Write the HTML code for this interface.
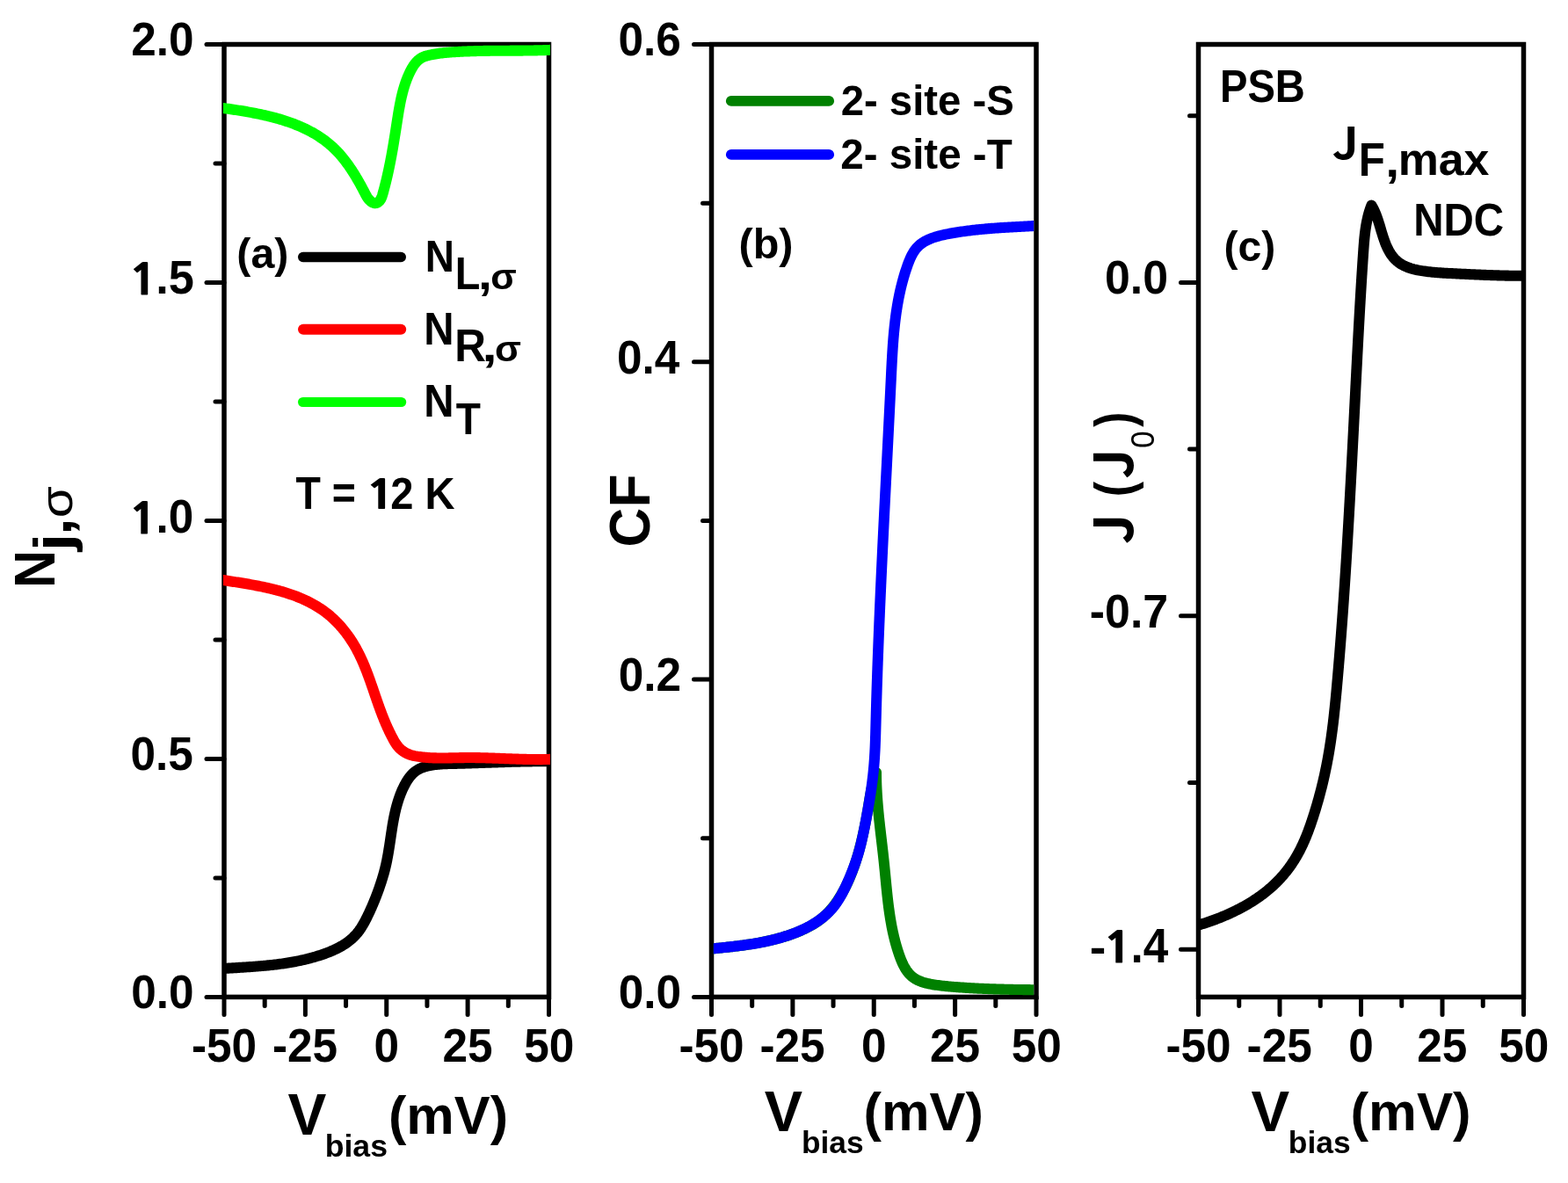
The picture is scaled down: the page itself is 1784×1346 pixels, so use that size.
<!DOCTYPE html>
<html><head><meta charset="utf-8"><title>Figure</title>
<style>html,body{margin:0;padding:0;background:#fff;}svg{display:block;}</style>
</head><body>
<svg width="1784" height="1346" viewBox="0 0 1784 1346">
<rect width="1784" height="1346" fill="#fff"/>
<defs><clipPath id="cpa"><rect x="253.9" y="0" width="372.1" height="1346"/></clipPath><clipPath id="cpb"><rect x="811.8" y="0" width="364.4" height="1346"/></clipPath><clipPath id="cpc"><rect x="1362" y="0" width="369.2" height="1346"/></clipPath></defs>
<g>
<rect x="255" y="50.5" width="369.5" height="1083.9" fill="none" stroke="#000" stroke-width="5.5" stroke-linejoin="miter"/>
<rect x="809.5" y="50.5" width="369.5" height="1083.9" fill="none" stroke="#000" stroke-width="5.5" stroke-linejoin="miter"/>
<rect x="1363.5" y="50.5" width="370" height="1083.9" fill="none" stroke="#000" stroke-width="5.5" stroke-linejoin="miter"/>
<line x1="255" y1="1134.4" x2="255" y2="1154.4" stroke="#000" stroke-width="5.0" stroke-linecap="round"/>
<line x1="347.38" y1="1134.4" x2="347.38" y2="1154.4" stroke="#000" stroke-width="5.0" stroke-linecap="round"/>
<line x1="439.75" y1="1134.4" x2="439.75" y2="1154.4" stroke="#000" stroke-width="5.0" stroke-linecap="round"/>
<line x1="532.12" y1="1134.4" x2="532.12" y2="1154.4" stroke="#000" stroke-width="5.0" stroke-linecap="round"/>
<line x1="624.5" y1="1134.4" x2="624.5" y2="1154.4" stroke="#000" stroke-width="5.0" stroke-linecap="round"/>
<line x1="301.19" y1="1134.4" x2="301.19" y2="1144.4" stroke="#000" stroke-width="5.0" stroke-linecap="round"/>
<line x1="393.56" y1="1134.4" x2="393.56" y2="1144.4" stroke="#000" stroke-width="5.0" stroke-linecap="round"/>
<line x1="485.94" y1="1134.4" x2="485.94" y2="1144.4" stroke="#000" stroke-width="5.0" stroke-linecap="round"/>
<line x1="578.31" y1="1134.4" x2="578.31" y2="1144.4" stroke="#000" stroke-width="5.0" stroke-linecap="round"/>
<line x1="809.5" y1="1134.4" x2="809.5" y2="1154.4" stroke="#000" stroke-width="5.0" stroke-linecap="round"/>
<line x1="901.88" y1="1134.4" x2="901.88" y2="1154.4" stroke="#000" stroke-width="5.0" stroke-linecap="round"/>
<line x1="994.25" y1="1134.4" x2="994.25" y2="1154.4" stroke="#000" stroke-width="5.0" stroke-linecap="round"/>
<line x1="1086.62" y1="1134.4" x2="1086.62" y2="1154.4" stroke="#000" stroke-width="5.0" stroke-linecap="round"/>
<line x1="1179" y1="1134.4" x2="1179" y2="1154.4" stroke="#000" stroke-width="5.0" stroke-linecap="round"/>
<line x1="855.69" y1="1134.4" x2="855.69" y2="1144.4" stroke="#000" stroke-width="5.0" stroke-linecap="round"/>
<line x1="948.06" y1="1134.4" x2="948.06" y2="1144.4" stroke="#000" stroke-width="5.0" stroke-linecap="round"/>
<line x1="1040.44" y1="1134.4" x2="1040.44" y2="1144.4" stroke="#000" stroke-width="5.0" stroke-linecap="round"/>
<line x1="1132.81" y1="1134.4" x2="1132.81" y2="1144.4" stroke="#000" stroke-width="5.0" stroke-linecap="round"/>
<line x1="1363.5" y1="1134.4" x2="1363.5" y2="1154.4" stroke="#000" stroke-width="5.0" stroke-linecap="round"/>
<line x1="1456" y1="1134.4" x2="1456" y2="1154.4" stroke="#000" stroke-width="5.0" stroke-linecap="round"/>
<line x1="1548.5" y1="1134.4" x2="1548.5" y2="1154.4" stroke="#000" stroke-width="5.0" stroke-linecap="round"/>
<line x1="1641" y1="1134.4" x2="1641" y2="1154.4" stroke="#000" stroke-width="5.0" stroke-linecap="round"/>
<line x1="1733.5" y1="1134.4" x2="1733.5" y2="1154.4" stroke="#000" stroke-width="5.0" stroke-linecap="round"/>
<line x1="1409.75" y1="1134.4" x2="1409.75" y2="1144.4" stroke="#000" stroke-width="5.0" stroke-linecap="round"/>
<line x1="1502.25" y1="1134.4" x2="1502.25" y2="1144.4" stroke="#000" stroke-width="5.0" stroke-linecap="round"/>
<line x1="1594.75" y1="1134.4" x2="1594.75" y2="1144.4" stroke="#000" stroke-width="5.0" stroke-linecap="round"/>
<line x1="1687.25" y1="1134.4" x2="1687.25" y2="1144.4" stroke="#000" stroke-width="5.0" stroke-linecap="round"/>
<line x1="235" y1="1134.4" x2="255" y2="1134.4" stroke="#000" stroke-width="5.0" stroke-linecap="round"/>
<line x1="235" y1="863.43" x2="255" y2="863.43" stroke="#000" stroke-width="5.0" stroke-linecap="round"/>
<line x1="235" y1="592.45" x2="255" y2="592.45" stroke="#000" stroke-width="5.0" stroke-linecap="round"/>
<line x1="235" y1="321.48" x2="255" y2="321.48" stroke="#000" stroke-width="5.0" stroke-linecap="round"/>
<line x1="235" y1="50.5" x2="255" y2="50.5" stroke="#000" stroke-width="5.0" stroke-linecap="round"/>
<line x1="245" y1="998.91" x2="255" y2="998.91" stroke="#000" stroke-width="5.0" stroke-linecap="round"/>
<line x1="245" y1="727.94" x2="255" y2="727.94" stroke="#000" stroke-width="5.0" stroke-linecap="round"/>
<line x1="245" y1="456.96" x2="255" y2="456.96" stroke="#000" stroke-width="5.0" stroke-linecap="round"/>
<line x1="245" y1="185.99" x2="255" y2="185.99" stroke="#000" stroke-width="5.0" stroke-linecap="round"/>
<line x1="789.5" y1="1134.4" x2="809.5" y2="1134.4" stroke="#000" stroke-width="5.0" stroke-linecap="round"/>
<line x1="789.5" y1="773.1" x2="809.5" y2="773.1" stroke="#000" stroke-width="5.0" stroke-linecap="round"/>
<line x1="789.5" y1="411.8" x2="809.5" y2="411.8" stroke="#000" stroke-width="5.0" stroke-linecap="round"/>
<line x1="789.5" y1="50.5" x2="809.5" y2="50.5" stroke="#000" stroke-width="5.0" stroke-linecap="round"/>
<line x1="799.5" y1="953.75" x2="809.5" y2="953.75" stroke="#000" stroke-width="5.0" stroke-linecap="round"/>
<line x1="799.5" y1="592.45" x2="809.5" y2="592.45" stroke="#000" stroke-width="5.0" stroke-linecap="round"/>
<line x1="799.5" y1="231.15" x2="809.5" y2="231.15" stroke="#000" stroke-width="5.0" stroke-linecap="round"/>
<line x1="1343.5" y1="321.4" x2="1363.5" y2="321.4" stroke="#000" stroke-width="5.0" stroke-linecap="round"/>
<line x1="1343.5" y1="700.8" x2="1363.5" y2="700.8" stroke="#000" stroke-width="5.0" stroke-linecap="round"/>
<line x1="1343.5" y1="1080.2" x2="1363.5" y2="1080.2" stroke="#000" stroke-width="5.0" stroke-linecap="round"/>
<line x1="1353.5" y1="131.7" x2="1363.5" y2="131.7" stroke="#000" stroke-width="5.0" stroke-linecap="round"/>
<line x1="1353.5" y1="511.1" x2="1363.5" y2="511.1" stroke="#000" stroke-width="5.0" stroke-linecap="round"/>
<line x1="1353.5" y1="890.5" x2="1363.5" y2="890.5" stroke="#000" stroke-width="5.0" stroke-linecap="round"/>
</g>
<g>
<path d="M250.01 1102.25 L254.00 1102.00 L255.50 1101.91 L256.99 1101.81 L258.49 1101.72 L259.99 1101.63 L261.49 1101.54 L262.99 1101.45 L264.49 1101.36 L265.99 1101.27 L267.49 1101.18 L269.00 1101.09 L270.50 1101.00 L272.00 1100.90 L273.50 1100.81 L275.01 1100.72 L276.51 1100.62 L278.01 1100.53 L279.52 1100.43 L281.02 1100.33 L282.52 1100.23 L284.03 1100.13 L285.53 1100.02 L287.03 1099.92 L288.54 1099.81 L290.04 1099.69 L291.54 1099.58 L293.04 1099.46 L294.55 1099.34 L296.05 1099.21 L297.55 1099.09 L299.05 1098.95 L300.55 1098.82 L302.05 1098.68 L303.55 1098.53 L305.05 1098.39 L306.55 1098.23 L308.04 1098.07 L309.54 1097.91 L311.04 1097.74 L312.53 1097.57 L314.03 1097.39 L315.52 1097.21 L317.01 1097.02 L318.51 1096.83 L320.00 1096.62 L321.49 1096.42 L322.97 1096.20 L324.46 1095.98 L325.95 1095.75 L327.43 1095.52 L328.92 1095.28 L330.40 1095.03 L331.88 1094.77 L333.36 1094.51 L334.84 1094.24 L336.32 1093.96 L337.79 1093.67 L339.27 1093.38 L340.74 1093.07 L342.21 1092.76 L343.68 1092.44 L345.15 1092.11 L346.61 1091.77 L348.08 1091.42 L349.54 1091.06 L351.00 1090.69 L352.46 1090.31 L353.91 1089.93 L355.37 1089.53 L356.82 1089.12 L358.27 1088.70 L359.72 1088.27 L361.17 1087.83 L362.61 1087.38 L364.05 1086.92 L365.49 1086.45 L366.93 1085.96 L368.37 1085.46 L369.80 1084.95 L371.22 1084.43 L372.64 1083.89 L374.06 1083.34 L375.47 1082.78 L376.87 1082.19 L378.26 1081.60 L379.64 1080.98 L381.01 1080.35 L382.37 1079.70 L383.72 1079.04 L385.06 1078.35 L386.38 1077.64 L387.69 1076.92 L388.99 1076.17 L390.27 1075.40 L391.53 1074.61 L392.78 1073.80 L394.01 1072.97 L395.22 1072.11 L396.40 1071.23 L397.57 1070.32 L398.72 1069.39 L399.85 1068.43 L400.95 1067.44 L402.03 1066.43 L403.09 1065.39 L404.12 1064.33 L405.12 1063.23 L406.10 1062.11 L407.05 1060.95 L407.97 1059.77 L408.87 1058.55 L409.74 1057.31 L410.59 1056.05 L411.41 1054.77 L412.21 1053.46 L412.99 1052.14 L413.75 1050.80 L414.50 1049.46 L415.23 1048.10 L415.94 1046.73 L416.65 1045.36 L417.34 1043.98 L418.02 1042.61 L418.69 1041.23 L419.35 1039.86 L420.00 1038.48 L420.64 1037.10 L421.27 1035.72 L421.90 1034.34 L422.51 1032.96 L423.12 1031.58 L423.72 1030.20 L424.31 1028.81 L424.90 1027.43 L425.47 1026.04 L426.04 1024.65 L426.60 1023.26 L427.15 1021.87 L427.70 1020.48 L428.23 1019.08 L428.77 1017.68 L429.29 1016.28 L429.81 1014.88 L430.32 1013.48 L430.83 1012.07 L431.33 1010.66 L431.82 1009.25 L432.31 1007.84 L432.79 1006.42 L433.26 1005.00 L433.72 1003.58 L434.18 1002.15 L434.63 1000.73 L435.07 999.29 L435.50 997.86 L435.92 996.42 L436.34 994.98 L436.74 993.54 L437.14 992.10 L437.52 990.65 L437.90 989.19 L438.26 987.74 L438.62 986.28 L438.96 984.82 L439.29 983.35 L439.61 981.88 L439.92 980.41 L440.23 978.93 L440.52 977.45 L440.80 975.97 L441.08 974.49 L441.35 973.00 L441.61 971.52 L441.86 970.03 L442.11 968.53 L442.35 967.04 L442.59 965.54 L442.83 964.05 L443.06 962.55 L443.29 961.05 L443.51 959.55 L443.74 958.05 L443.96 956.55 L444.18 955.05 L444.40 953.55 L444.62 952.05 L444.84 950.55 L445.07 949.05 L445.29 947.55 L445.52 946.05 L445.75 944.55 L445.99 943.05 L446.22 941.56 L446.47 940.06 L446.71 938.57 L446.97 937.08 L447.23 935.59 L447.49 934.10 L447.77 932.62 L448.05 931.13 L448.34 929.65 L448.64 928.18 L448.95 926.70 L449.27 925.23 L449.60 923.76 L449.94 922.30 L450.29 920.84 L450.66 919.38 L451.04 917.93 L451.43 916.48 L451.84 915.03 L452.26 913.59 L452.69 912.16 L453.14 910.72 L453.61 909.30 L454.10 907.88 L454.60 906.46 L455.12 905.05 L455.65 903.65 L456.21 902.25 L456.79 900.86 L457.38 899.47 L458.00 898.09 L458.64 896.72 L459.30 895.35 L459.98 893.99 L460.68 892.64 L461.42 891.30 L462.17 889.98 L462.96 888.68 L463.77 887.40 L464.61 886.15 L465.49 884.94 L466.40 883.75 L467.35 882.61 L468.33 881.51 L469.34 880.45 L470.40 879.44 L471.50 878.49 L472.64 877.59 L473.83 876.76 L475.05 875.98 L476.32 875.27 L477.63 874.61 L478.96 874.00 L480.33 873.45 L481.72 872.94 L483.14 872.48 L484.57 872.06 L486.02 871.68 L487.47 871.33 L488.94 871.02 L490.41 870.73 L491.90 870.48 L493.39 870.26 L494.88 870.06 L496.39 869.88 L497.90 869.73 L499.41 869.60 L500.93 869.48 L502.45 869.38 L503.98 869.30 L505.50 869.23 L507.03 869.17 L508.56 869.12 L510.10 869.07 L511.63 869.03 L513.16 868.99 L514.69 868.96 L516.22 868.92 L517.75 868.88 L519.27 868.84 L520.79 868.80 L522.32 868.76 L523.84 868.72 L525.36 868.67 L526.87 868.63 L528.39 868.59 L529.90 868.54 L531.42 868.49 L532.93 868.45 L534.44 868.40 L535.95 868.35 L537.46 868.30 L538.97 868.25 L540.47 868.20 L541.98 868.15 L543.48 868.10 L544.98 868.05 L546.49 868.00 L547.99 867.95 L549.49 867.90 L550.99 867.85 L552.49 867.79 L553.99 867.74 L555.48 867.69 L556.98 867.64 L558.48 867.59 L559.97 867.54 L561.47 867.49 L562.97 867.44 L564.46 867.38 L565.96 867.34 L567.45 867.29 L568.94 867.24 L570.44 867.19 L571.93 867.14 L573.43 867.09 L574.92 867.05 L576.41 867.00 L577.91 866.96 L579.40 866.91 L580.89 866.87 L582.39 866.82 L583.88 866.78 L585.38 866.74 L586.87 866.70 L588.37 866.66 L589.86 866.63 L591.36 866.59 L592.86 866.56 L594.35 866.52 L595.85 866.49 L597.35 866.46 L598.85 866.43 L600.35 866.40 L601.85 866.38 L603.35 866.35 L604.85 866.33 L606.36 866.31 L607.86 866.29 L609.37 866.27 L610.87 866.25 L612.38 866.24 L613.89 866.23 L615.40 866.21 L616.91 866.21 L618.42 866.20 L619.93 866.20 L621.45 866.19 L622.96 866.19 L624.48 866.20 L626.00 866.20 L630.00 866.21" fill="none" stroke="#000" stroke-width="12.1" stroke-linejoin="round" stroke-linecap="butt" clip-path="url(#cpa)"/>
<path d="M250.25 659.48 L254.20 660.10 L255.64 660.32 L257.08 660.55 L258.53 660.77 L259.98 661.00 L261.44 661.22 L262.90 661.45 L264.37 661.68 L265.84 661.91 L267.31 662.14 L268.78 662.37 L270.26 662.60 L271.74 662.84 L273.23 663.08 L274.72 663.32 L276.21 663.56 L277.70 663.81 L279.19 664.06 L280.69 664.31 L282.18 664.57 L283.68 664.83 L285.18 665.09 L286.68 665.36 L288.18 665.64 L289.69 665.91 L291.19 666.20 L292.69 666.48 L294.19 666.78 L295.69 667.08 L297.20 667.38 L298.70 667.69 L300.20 668.00 L301.70 668.33 L303.19 668.66 L304.69 668.99 L306.18 669.33 L307.68 669.68 L309.17 670.04 L310.66 670.40 L312.14 670.77 L313.63 671.15 L315.11 671.54 L316.58 671.94 L318.06 672.34 L319.53 672.75 L321.00 673.18 L322.46 673.61 L323.92 674.05 L325.37 674.50 L326.82 674.96 L328.27 675.43 L329.71 675.91 L331.15 676.40 L332.58 676.90 L334.00 677.41 L335.42 677.93 L336.83 678.47 L338.24 679.01 L339.64 679.57 L341.04 680.14 L342.43 680.72 L343.81 681.31 L345.18 681.92 L346.55 682.54 L347.91 683.17 L349.26 683.81 L350.61 684.47 L351.94 685.14 L353.27 685.83 L354.59 686.52 L355.90 687.24 L357.20 687.96 L358.49 688.71 L359.78 689.46 L361.05 690.23 L362.31 691.02 L363.57 691.82 L364.81 692.64 L366.05 693.47 L367.27 694.32 L368.48 695.19 L369.69 696.07 L370.88 696.97 L372.06 697.88 L373.23 698.81 L374.38 699.76 L375.53 700.73 L376.66 701.71 L377.78 702.71 L378.89 703.72 L379.99 704.75 L381.07 705.80 L382.15 706.86 L383.21 707.93 L384.26 709.02 L385.29 710.12 L386.32 711.23 L387.33 712.36 L388.32 713.50 L389.31 714.66 L390.28 715.82 L391.24 717.00 L392.19 718.18 L393.13 719.38 L394.05 720.59 L394.96 721.81 L395.85 723.04 L396.73 724.28 L397.60 725.53 L398.46 726.78 L399.30 728.05 L400.13 729.32 L400.94 730.60 L401.74 731.89 L402.53 733.19 L403.30 734.49 L404.06 735.80 L404.81 737.11 L405.54 738.43 L406.26 739.76 L406.96 741.09 L407.66 742.43 L408.34 743.77 L409.00 745.12 L409.66 746.47 L410.31 747.83 L410.94 749.19 L411.57 750.56 L412.19 751.93 L412.79 753.30 L413.39 754.68 L413.98 756.06 L414.56 757.45 L415.13 758.84 L415.69 760.23 L416.25 761.63 L416.80 763.03 L417.34 764.43 L417.88 765.84 L418.41 767.24 L418.94 768.65 L419.46 770.07 L419.97 771.48 L420.48 772.90 L420.99 774.32 L421.50 775.74 L422.00 777.16 L422.49 778.59 L422.99 780.01 L423.48 781.44 L423.98 782.87 L424.47 784.30 L424.96 785.72 L425.44 787.15 L425.93 788.58 L426.42 790.01 L426.91 791.45 L427.40 792.88 L427.89 794.31 L428.39 795.74 L428.88 797.17 L429.38 798.59 L429.88 800.02 L430.38 801.45 L430.89 802.87 L431.40 804.30 L431.92 805.72 L432.44 807.14 L432.96 808.56 L433.49 809.98 L434.03 811.40 L434.57 812.81 L435.12 814.22 L435.67 815.63 L436.24 817.04 L436.80 818.44 L437.38 819.85 L437.96 821.24 L438.55 822.64 L439.15 824.03 L439.75 825.42 L440.37 826.80 L440.99 828.18 L441.62 829.56 L442.27 830.93 L442.92 832.30 L443.58 833.67 L444.25 835.03 L444.93 836.38 L445.62 837.73 L446.32 839.08 L447.03 840.42 L447.76 841.75 L448.50 843.08 L449.26 844.38 L450.05 845.67 L450.88 846.92 L451.76 848.13 L452.68 849.29 L453.65 850.41 L454.68 851.47 L455.75 852.48 L456.87 853.44 L458.03 854.34 L459.24 855.18 L460.48 855.97 L461.77 856.69 L463.09 857.36 L464.44 857.96 L465.83 858.50 L467.26 858.98 L468.71 859.40 L470.18 859.76 L471.67 860.09 L473.17 860.37 L474.68 860.63 L476.19 860.86 L477.70 861.07 L479.21 861.27 L480.72 861.45 L482.23 861.61 L483.74 861.75 L485.25 861.88 L486.76 862.00 L488.28 862.10 L489.79 862.19 L491.30 862.27 L492.81 862.33 L494.32 862.38 L495.83 862.42 L497.35 862.46 L498.86 862.48 L500.37 862.49 L501.88 862.50 L503.39 862.50 L504.90 862.49 L506.41 862.48 L507.93 862.46 L509.44 862.44 L510.95 862.42 L512.46 862.39 L513.97 862.36 L515.48 862.32 L516.99 862.29 L518.50 862.26 L520.01 862.22 L521.52 862.19 L523.03 862.16 L524.54 862.13 L526.05 862.10 L527.56 862.08 L529.07 862.06 L530.58 862.05 L532.09 862.04 L533.60 862.04 L535.11 862.04 L536.62 862.05 L538.13 862.06 L539.63 862.07 L541.14 862.09 L542.65 862.12 L544.16 862.14 L545.67 862.17 L547.17 862.20 L548.68 862.24 L550.19 862.27 L551.70 862.31 L553.20 862.36 L554.71 862.40 L556.22 862.45 L557.73 862.50 L559.23 862.55 L560.74 862.60 L562.25 862.66 L563.75 862.71 L565.26 862.77 L566.77 862.82 L568.27 862.88 L569.78 862.94 L571.29 863.00 L572.79 863.06 L574.30 863.12 L575.81 863.18 L577.32 863.23 L578.82 863.29 L580.33 863.35 L581.84 863.41 L583.34 863.46 L584.85 863.52 L586.36 863.57 L587.87 863.62 L589.37 863.67 L590.88 863.72 L592.39 863.76 L593.90 863.81 L595.41 863.85 L596.91 863.89 L598.42 863.92 L599.93 863.96 L601.44 863.99 L602.95 864.01 L604.46 864.03 L605.96 864.05 L607.47 864.07 L608.98 864.08 L610.49 864.09 L612.00 864.09 L613.51 864.09 L615.02 864.09 L616.53 864.08 L618.04 864.06 L619.55 864.04 L621.07 864.01 L622.58 863.98 L624.09 863.94 L625.60 863.90 L629.60 863.79" fill="none" stroke="#ff0000" stroke-width="12.1" stroke-linejoin="round" stroke-linecap="butt" clip-path="url(#cpa)"/>
<path d="M250.04 122.44 L254.00 123.00 L255.45 123.21 L256.90 123.41 L258.35 123.62 L259.81 123.83 L261.27 124.04 L262.74 124.26 L264.21 124.47 L265.68 124.69 L267.16 124.92 L268.63 125.14 L270.12 125.37 L271.60 125.61 L273.08 125.84 L274.57 126.08 L276.06 126.33 L277.55 126.57 L279.04 126.83 L280.53 127.08 L282.03 127.35 L283.52 127.61 L285.02 127.88 L286.51 128.16 L288.01 128.44 L289.50 128.73 L291.00 129.02 L292.50 129.32 L293.99 129.62 L295.49 129.93 L296.98 130.25 L298.47 130.57 L299.97 130.90 L301.46 131.24 L302.95 131.58 L304.43 131.93 L305.92 132.29 L307.40 132.65 L308.88 133.03 L310.36 133.41 L311.84 133.79 L313.31 134.19 L314.78 134.60 L316.25 135.01 L317.71 135.43 L319.17 135.86 L320.63 136.30 L322.08 136.75 L323.53 137.21 L324.97 137.67 L326.41 138.15 L327.85 138.64 L329.28 139.13 L330.70 139.64 L332.12 140.16 L333.53 140.68 L334.94 141.22 L336.34 141.77 L337.74 142.33 L339.13 142.90 L340.52 143.48 L341.89 144.08 L343.27 144.68 L344.63 145.30 L345.99 145.93 L347.34 146.57 L348.68 147.22 L350.01 147.88 L351.34 148.56 L352.66 149.25 L353.97 149.96 L355.27 150.67 L356.57 151.40 L357.85 152.15 L359.13 152.90 L360.40 153.68 L361.65 154.46 L362.90 155.26 L364.14 156.07 L365.37 156.90 L366.59 157.74 L367.80 158.60 L369.00 159.47 L370.18 160.36 L371.36 161.26 L372.53 162.18 L373.68 163.11 L374.82 164.06 L375.96 165.03 L377.08 166.01 L378.19 167.01 L379.28 168.02 L380.37 169.05 L381.44 170.10 L382.50 171.16 L383.54 172.24 L384.58 173.34 L385.60 174.45 L386.61 175.58 L387.61 176.72 L388.60 177.87 L389.57 179.04 L390.53 180.22 L391.49 181.42 L392.43 182.62 L393.36 183.84 L394.27 185.06 L395.18 186.30 L396.08 187.55 L396.97 188.80 L397.84 190.07 L398.71 191.34 L399.57 192.62 L400.41 193.90 L401.25 195.20 L402.07 196.49 L402.89 197.80 L403.70 199.11 L404.50 200.42 L405.29 201.74 L406.07 203.06 L406.84 204.38 L407.60 205.70 L408.36 207.03 L409.10 208.35 L409.84 209.68 L410.57 211.01 L411.29 212.34 L412.00 213.66 L412.71 214.99 L413.41 216.31 L414.10 217.63 L414.78 218.94 L415.46 220.26 L416.15 221.56 L416.86 222.84 L417.61 224.10 L418.43 225.32 L419.32 226.50 L420.32 227.63 L421.43 228.70 L422.65 229.66 L423.96 230.45 L425.31 230.99 L426.68 231.20 L428.04 231.04 L429.35 230.55 L430.57 229.80 L431.65 228.83 L432.57 227.71 L433.33 226.47 L433.97 225.13 L434.52 223.71 L434.99 222.24 L435.43 220.75 L435.85 219.25 L436.27 217.75 L436.67 216.25 L437.07 214.76 L437.47 213.27 L437.85 211.77 L438.24 210.28 L438.61 208.80 L438.98 207.31 L439.34 205.82 L439.70 204.34 L440.05 202.86 L440.40 201.37 L440.74 199.89 L441.07 198.41 L441.40 196.93 L441.72 195.45 L442.04 193.98 L442.36 192.50 L442.67 191.02 L442.98 189.55 L443.28 188.07 L443.57 186.60 L443.87 185.12 L444.16 183.65 L444.44 182.18 L444.72 180.70 L445.00 179.23 L445.28 177.76 L445.55 176.28 L445.81 174.81 L446.08 173.34 L446.34 171.86 L446.60 170.39 L446.86 168.92 L447.11 167.44 L447.36 165.97 L447.61 164.49 L447.86 163.02 L448.10 161.54 L448.35 160.06 L448.59 158.59 L448.83 157.11 L449.06 155.63 L449.30 154.15 L449.54 152.67 L449.77 151.18 L450.00 149.70 L450.24 148.22 L450.47 146.73 L450.70 145.24 L450.93 143.75 L451.16 142.26 L451.39 140.77 L451.62 139.28 L451.85 137.79 L452.08 136.29 L452.32 134.79 L452.55 133.30 L452.79 131.80 L453.03 130.30 L453.27 128.80 L453.52 127.30 L453.77 125.81 L454.03 124.31 L454.30 122.81 L454.57 121.32 L454.84 119.83 L455.13 118.34 L455.42 116.85 L455.72 115.36 L456.03 113.88 L456.35 112.40 L456.68 110.92 L457.02 109.45 L457.37 107.98 L457.73 106.51 L458.10 105.05 L458.49 103.59 L458.89 102.13 L459.31 100.68 L459.74 99.24 L460.18 97.80 L460.64 96.37 L461.12 94.94 L461.61 93.52 L462.12 92.10 L462.65 90.70 L463.19 89.29 L463.76 87.90 L464.34 86.51 L464.94 85.13 L465.57 83.76 L466.21 82.40 L466.88 81.05 L467.57 79.70 L468.28 78.37 L469.03 77.07 L469.81 75.79 L470.62 74.54 L471.48 73.33 L472.38 72.16 L473.32 71.03 L474.31 69.96 L475.35 68.94 L476.45 67.99 L477.61 67.11 L478.83 66.29 L480.11 65.56 L481.46 64.90 L482.87 64.33 L484.33 63.82 L485.84 63.38 L487.37 62.98 L488.92 62.63 L490.48 62.31 L492.03 62.01 L493.58 61.73 L495.12 61.48 L496.65 61.23 L498.17 61.01 L499.68 60.79 L501.19 60.60 L502.70 60.41 L504.19 60.24 L505.69 60.08 L507.18 59.93 L508.66 59.79 L510.15 59.66 L511.63 59.54 L513.11 59.42 L514.59 59.32 L516.08 59.22 L517.56 59.12 L519.04 59.03 L520.53 58.94 L522.02 58.86 L523.50 58.78 L525.00 58.70 L526.49 58.63 L527.98 58.56 L529.47 58.50 L530.97 58.44 L532.47 58.38 L533.97 58.33 L535.47 58.28 L536.97 58.23 L538.47 58.18 L539.97 58.14 L541.48 58.10 L542.98 58.06 L544.49 58.03 L545.99 58.00 L547.50 57.97 L549.01 57.94 L550.52 57.91 L552.03 57.89 L553.54 57.87 L555.05 57.85 L556.56 57.83 L558.08 57.81 L559.59 57.80 L561.10 57.78 L562.62 57.77 L564.13 57.76 L565.65 57.75 L567.16 57.74 L568.68 57.73 L570.19 57.72 L571.71 57.71 L573.22 57.70 L574.74 57.70 L576.25 57.69 L577.77 57.68 L579.29 57.68 L580.80 57.67 L582.32 57.66 L583.83 57.66 L585.35 57.65 L586.86 57.64 L588.38 57.63 L589.89 57.62 L591.40 57.61 L592.92 57.60 L594.43 57.59 L595.94 57.57 L597.45 57.56 L598.96 57.54 L600.47 57.53 L601.98 57.51 L603.49 57.49 L605.00 57.46 L606.51 57.44 L608.01 57.41 L609.52 57.38 L611.02 57.35 L612.52 57.32 L614.03 57.28 L615.53 57.25 L617.03 57.21 L618.53 57.16 L620.02 57.12 L621.52 57.07 L623.01 57.01 L624.51 56.96 L626.00 56.90 L630.00 56.74" fill="none" stroke="#00ff00" stroke-width="12.1" stroke-linejoin="round" stroke-linecap="butt" clip-path="url(#cpa)"/>
<path d="M807.52 1079.69 L811.50 1079.30 L813.01 1079.15 L814.52 1079.01 L816.04 1078.86 L817.55 1078.71 L819.06 1078.56 L820.57 1078.41 L822.07 1078.26 L823.58 1078.10 L825.09 1077.94 L826.60 1077.79 L828.10 1077.63 L829.61 1077.46 L831.12 1077.30 L832.62 1077.13 L834.12 1076.95 L835.63 1076.78 L837.13 1076.60 L838.63 1076.42 L840.13 1076.23 L841.63 1076.04 L843.13 1075.85 L844.62 1075.65 L846.12 1075.44 L847.62 1075.24 L849.11 1075.02 L850.60 1074.80 L852.10 1074.58 L853.59 1074.35 L855.08 1074.12 L856.57 1073.88 L858.05 1073.63 L859.54 1073.38 L861.03 1073.12 L862.51 1072.85 L863.99 1072.58 L865.48 1072.30 L866.96 1072.01 L868.43 1071.72 L869.91 1071.41 L871.39 1071.10 L872.86 1070.78 L874.34 1070.46 L875.81 1070.12 L877.28 1069.78 L878.75 1069.43 L880.21 1069.07 L881.68 1068.70 L883.14 1068.32 L884.61 1067.93 L886.07 1067.53 L887.53 1067.12 L888.98 1066.71 L890.44 1066.28 L891.89 1065.84 L893.35 1065.39 L894.80 1064.93 L896.25 1064.46 L897.69 1063.98 L899.14 1063.48 L900.58 1062.98 L902.02 1062.46 L903.46 1061.93 L904.89 1061.39 L906.33 1060.83 L907.75 1060.27 L909.17 1059.68 L910.58 1059.09 L911.99 1058.48 L913.39 1057.85 L914.78 1057.21 L916.16 1056.55 L917.54 1055.88 L918.90 1055.19 L920.25 1054.48 L921.59 1053.76 L922.91 1053.02 L924.23 1052.26 L925.53 1051.48 L926.81 1050.68 L928.09 1049.87 L929.34 1049.03 L930.58 1048.17 L931.80 1047.30 L933.01 1046.40 L934.19 1045.48 L935.36 1044.54 L936.50 1043.58 L937.63 1042.59 L938.74 1041.59 L939.83 1040.56 L940.89 1039.52 L941.94 1038.45 L942.98 1037.37 L943.99 1036.26 L944.98 1035.15 L945.96 1034.01 L946.92 1032.86 L947.86 1031.69 L948.79 1030.50 L949.70 1029.30 L950.59 1028.09 L951.47 1026.87 L952.33 1025.63 L953.18 1024.38 L954.01 1023.12 L954.83 1021.84 L955.63 1020.56 L956.42 1019.27 L957.19 1017.97 L957.95 1016.66 L958.70 1015.34 L959.43 1014.02 L960.15 1012.69 L960.86 1011.35 L961.55 1010.00 L962.24 1008.65 L962.91 1007.30 L963.56 1005.94 L964.21 1004.57 L964.85 1003.20 L965.47 1001.82 L966.08 1000.44 L966.68 999.05 L967.27 997.65 L967.85 996.26 L968.42 994.85 L968.98 993.45 L969.53 992.03 L970.07 990.62 L970.60 989.20 L971.12 987.77 L971.63 986.35 L972.13 984.91 L972.62 983.48 L973.10 982.04 L973.57 980.60 L974.04 979.15 L974.49 977.71 L974.94 976.26 L975.38 974.80 L975.82 973.35 L976.24 971.89 L976.66 970.43 L977.07 968.97 L977.47 967.50 L977.87 966.04 L978.26 964.57 L978.64 963.10 L979.02 961.63 L979.39 960.16 L979.75 958.68 L980.11 957.21 L980.46 955.74 L980.81 954.26 L981.15 952.78 L981.49 951.31 L981.82 949.83 L982.15 948.35 L982.47 946.88 L982.79 945.40 L983.10 943.92 L983.41 942.44 L983.72 940.97 L984.02 939.49 L984.31 938.01 L984.60 936.53 L984.89 935.05 L985.17 933.56 L985.45 932.08 L985.73 930.60 L986.00 929.12 L986.27 927.63 L986.53 926.15 L986.79 924.66 L987.05 923.17 L987.30 921.69 L987.55 920.20 L987.80 918.71 L988.04 917.22 L988.29 915.73 L988.53 914.24 L988.77 912.74 L989.02 911.25 L989.27 909.76 L989.52 908.27 L989.77 906.78 L990.04 905.29 L990.31 903.81 L990.59 902.32 L990.87 900.84 L991.17 899.36 L991.48 897.88 L991.80 896.41 L992.14 894.93 L992.48 893.46 L992.85 892.00 L993.23 890.54 L993.63 889.08 L994.05 887.62 L994.48 886.17 L994.94 884.73 L995.42 883.29 L995.92 881.85 L996.45 880.42 L997.00 879.00 L997.00 880.52 L997.01 882.04 L997.03 883.55 L997.05 885.07 L997.08 886.59 L997.11 888.10 L997.15 889.61 L997.20 891.13 L997.25 892.64 L997.31 894.15 L997.37 895.66 L997.44 897.17 L997.52 898.68 L997.60 900.19 L997.68 901.70 L997.77 903.21 L997.86 904.72 L997.96 906.22 L998.06 907.73 L998.17 909.24 L998.28 910.74 L998.40 912.25 L998.52 913.75 L998.64 915.26 L998.77 916.76 L998.90 918.26 L999.03 919.77 L999.17 921.27 L999.31 922.77 L999.45 924.27 L999.60 925.77 L999.74 927.28 L999.90 928.78 L1000.05 930.28 L1000.21 931.78 L1000.36 933.28 L1000.52 934.78 L1000.69 936.28 L1000.85 937.78 L1001.02 939.28 L1001.18 940.78 L1001.35 942.28 L1001.52 943.78 L1001.69 945.28 L1001.86 946.78 L1002.04 948.27 L1002.21 949.77 L1002.39 951.27 L1002.56 952.77 L1002.74 954.27 L1002.91 955.77 L1003.09 957.27 L1003.26 958.77 L1003.44 960.27 L1003.61 961.77 L1003.79 963.27 L1003.96 964.77 L1004.13 966.27 L1004.31 967.77 L1004.48 969.27 L1004.65 970.77 L1004.82 972.27 L1004.98 973.77 L1005.15 975.27 L1005.31 976.77 L1005.48 978.28 L1005.64 979.78 L1005.80 981.28 L1005.95 982.79 L1006.11 984.29 L1006.26 985.79 L1006.41 987.30 L1006.56 988.80 L1006.71 990.31 L1006.85 991.81 L1007.00 993.32 L1007.14 994.82 L1007.29 996.33 L1007.43 997.83 L1007.57 999.34 L1007.72 1000.84 L1007.86 1002.35 L1008.01 1003.85 L1008.15 1005.36 L1008.30 1006.86 L1008.45 1008.37 L1008.59 1009.87 L1008.74 1011.38 L1008.90 1012.88 L1009.05 1014.39 L1009.21 1015.89 L1009.36 1017.39 L1009.52 1018.90 L1009.69 1020.40 L1009.85 1021.90 L1010.02 1023.40 L1010.20 1024.90 L1010.37 1026.40 L1010.56 1027.90 L1010.74 1029.40 L1010.93 1030.90 L1011.12 1032.40 L1011.32 1033.90 L1011.52 1035.39 L1011.73 1036.89 L1011.94 1038.38 L1012.16 1039.88 L1012.39 1041.37 L1012.62 1042.86 L1012.85 1044.35 L1013.09 1045.84 L1013.34 1047.33 L1013.60 1048.82 L1013.86 1050.30 L1014.13 1051.79 L1014.41 1053.27 L1014.69 1054.76 L1014.99 1056.24 L1015.29 1057.72 L1015.59 1059.20 L1015.91 1060.68 L1016.24 1062.15 L1016.57 1063.63 L1016.91 1065.10 L1017.27 1066.58 L1017.63 1068.05 L1018.00 1069.52 L1018.38 1070.98 L1018.77 1072.45 L1019.17 1073.92 L1019.59 1075.38 L1020.01 1076.84 L1020.44 1078.30 L1020.89 1079.76 L1021.34 1081.21 L1021.81 1082.67 L1022.29 1084.12 L1022.78 1085.57 L1023.28 1087.02 L1023.80 1088.46 L1024.33 1089.90 L1024.88 1091.33 L1025.45 1092.74 L1026.04 1094.15 L1026.65 1095.53 L1027.29 1096.90 L1027.95 1098.25 L1028.64 1099.57 L1029.36 1100.87 L1030.11 1102.14 L1030.90 1103.37 L1031.72 1104.58 L1032.58 1105.75 L1033.47 1106.87 L1034.41 1107.96 L1035.39 1109.01 L1036.41 1110.01 L1037.48 1110.96 L1038.60 1111.86 L1039.76 1112.71 L1040.98 1113.50 L1042.24 1114.24 L1043.55 1114.93 L1044.90 1115.57 L1046.28 1116.17 L1047.70 1116.73 L1049.14 1117.24 L1050.62 1117.72 L1052.12 1118.16 L1053.64 1118.56 L1055.17 1118.94 L1056.72 1119.28 L1058.28 1119.60 L1059.85 1119.90 L1061.42 1120.17 L1062.99 1120.42 L1064.56 1120.66 L1066.13 1120.88 L1067.68 1121.09 L1069.22 1121.29 L1070.75 1121.47 L1072.27 1121.65 L1073.78 1121.82 L1075.28 1121.98 L1076.78 1122.14 L1078.27 1122.28 L1079.75 1122.42 L1081.23 1122.56 L1082.70 1122.68 L1084.18 1122.81 L1085.65 1122.92 L1087.12 1123.04 L1088.59 1123.15 L1090.07 1123.26 L1091.55 1123.36 L1093.03 1123.46 L1094.51 1123.56 L1096.00 1123.66 L1097.49 1123.76 L1098.99 1123.85 L1100.48 1123.94 L1101.98 1124.03 L1103.49 1124.12 L1104.99 1124.20 L1106.50 1124.28 L1108.01 1124.37 L1109.52 1124.44 L1111.03 1124.52 L1112.55 1124.60 L1114.06 1124.67 L1115.58 1124.74 L1117.10 1124.81 L1118.62 1124.87 L1120.15 1124.94 L1121.67 1125.00 L1123.19 1125.06 L1124.72 1125.12 L1126.24 1125.18 L1127.77 1125.24 L1129.30 1125.29 L1130.82 1125.34 L1132.35 1125.39 L1133.88 1125.44 L1135.40 1125.49 L1136.93 1125.54 L1138.45 1125.58 L1139.98 1125.62 L1141.50 1125.66 L1143.03 1125.70 L1144.55 1125.74 L1146.07 1125.78 L1147.59 1125.81 L1149.11 1125.84 L1150.63 1125.87 L1152.15 1125.90 L1153.66 1125.93 L1155.18 1125.96 L1156.69 1125.99 L1158.20 1126.01 L1159.70 1126.03 L1161.21 1126.05 L1162.71 1126.07 L1164.21 1126.09 L1165.71 1126.11 L1167.20 1126.13 L1168.69 1126.14 L1170.18 1126.16 L1171.67 1126.17 L1173.15 1126.18 L1174.63 1126.19 L1176.10 1126.20 L1180.10 1126.22" fill="none" stroke="#008000" stroke-width="12.1" stroke-linejoin="round" stroke-linecap="butt" clip-path="url(#cpb)"/>
<path d="M807.52 1079.70 L811.50 1079.30 L813.00 1079.15 L814.50 1079.00 L816.00 1078.85 L817.50 1078.70 L819.00 1078.55 L820.50 1078.40 L822.00 1078.24 L823.50 1078.09 L825.00 1077.93 L826.50 1077.77 L827.99 1077.61 L829.49 1077.45 L830.99 1077.29 L832.48 1077.12 L833.98 1076.95 L835.47 1076.78 L836.96 1076.60 L838.46 1076.43 L839.95 1076.24 L841.44 1076.06 L842.93 1075.87 L844.42 1075.67 L845.90 1075.48 L847.39 1075.27 L848.88 1075.06 L850.36 1074.85 L851.84 1074.63 L853.33 1074.41 L854.81 1074.18 L856.29 1073.95 L857.77 1073.71 L859.25 1073.46 L860.72 1073.20 L862.20 1072.94 L863.67 1072.68 L865.14 1072.40 L866.61 1072.12 L868.08 1071.83 L869.55 1071.54 L871.01 1071.23 L872.48 1070.92 L873.94 1070.60 L875.40 1070.27 L876.86 1069.93 L878.32 1069.58 L879.77 1069.23 L881.23 1068.86 L882.68 1068.48 L884.13 1068.10 L885.58 1067.70 L887.02 1067.30 L888.47 1066.88 L889.91 1066.46 L891.35 1066.02 L892.79 1065.57 L894.22 1065.11 L895.66 1064.64 L897.09 1064.16 L898.52 1063.67 L899.94 1063.16 L901.37 1062.64 L902.79 1062.11 L904.21 1061.57 L905.62 1061.01 L907.03 1060.44 L908.44 1059.86 L909.84 1059.26 L911.23 1058.65 L912.62 1058.03 L913.99 1057.39 L915.37 1056.74 L916.73 1056.07 L918.08 1055.39 L919.43 1054.69 L920.76 1053.98 L922.09 1053.25 L923.40 1052.50 L924.71 1051.74 L926.00 1050.96 L927.27 1050.17 L928.54 1049.36 L929.79 1048.53 L931.03 1047.68 L932.25 1046.82 L933.46 1045.94 L934.65 1045.04 L935.82 1044.12 L936.98 1043.19 L938.12 1042.23 L939.25 1041.26 L940.35 1040.27 L941.44 1039.26 L942.50 1038.23 L943.55 1037.18 L944.57 1036.11 L945.58 1035.01 L946.56 1033.90 L947.52 1032.77 L948.46 1031.62 L949.38 1030.45 L950.27 1029.26 L951.15 1028.05 L952.00 1026.82 L952.84 1025.58 L953.66 1024.32 L954.46 1023.05 L955.25 1021.77 L956.01 1020.47 L956.77 1019.16 L957.50 1017.84 L958.23 1016.50 L958.93 1015.16 L959.63 1013.81 L960.31 1012.46 L960.98 1011.09 L961.64 1009.72 L962.29 1008.35 L962.93 1006.97 L963.56 1005.58 L964.18 1004.20 L964.80 1002.81 L965.40 1001.42 L966.00 1000.03 L966.59 998.64 L967.18 997.25 L967.76 995.86 L968.32 994.47 L968.89 993.07 L969.44 991.68 L969.99 990.28 L970.53 988.88 L971.06 987.48 L971.58 986.08 L972.09 984.67 L972.60 983.26 L973.10 981.86 L973.58 980.44 L974.06 979.03 L974.54 977.61 L975.00 976.19 L975.45 974.77 L975.90 973.35 L976.33 971.92 L976.76 970.48 L977.18 969.05 L977.59 967.61 L977.99 966.17 L978.37 964.72 L978.76 963.27 L979.13 961.82 L979.49 960.36 L979.85 958.90 L980.19 957.44 L980.54 955.97 L980.87 954.50 L981.20 953.04 L981.52 951.56 L981.84 950.09 L982.15 948.61 L982.46 947.14 L982.76 945.66 L983.06 944.18 L983.36 942.70 L983.65 941.22 L983.94 939.74 L984.23 938.26 L984.51 936.78 L984.79 935.29 L985.08 933.81 L985.36 932.33 L985.64 930.85 L985.91 929.37 L986.19 927.89 L986.46 926.41 L986.74 924.93 L987.01 923.45 L987.27 921.96 L987.54 920.48 L987.80 919.00 L988.06 917.52 L988.32 916.04 L988.58 914.56 L988.83 913.08 L989.08 911.60 L989.32 910.11 L989.57 908.63 L989.81 907.15 L990.04 905.67 L990.28 904.18 L990.51 902.70 L990.73 901.22 L990.96 899.73 L991.17 898.25 L991.39 896.76 L991.60 895.28 L991.80 893.79 L992.01 892.31 L992.20 890.82 L992.40 889.33 L992.58 887.85 L992.77 886.36 L992.95 884.87 L993.12 883.38 L993.29 881.89 L993.45 880.40 L993.61 878.91 L993.76 877.42 L993.91 875.92 L994.05 874.43 L994.19 872.94 L994.32 871.44 L994.44 869.95 L994.56 868.45 L994.67 866.95 L994.78 865.46 L994.89 863.96 L994.99 862.46 L995.08 860.96 L995.17 859.46 L995.26 857.96 L995.34 856.46 L995.42 854.95 L995.50 853.45 L995.57 851.95 L995.64 850.45 L995.70 848.94 L995.76 847.44 L995.82 845.93 L995.88 844.43 L995.93 842.93 L995.99 841.42 L996.04 839.91 L996.08 838.41 L996.13 836.90 L996.18 835.40 L996.22 833.89 L996.26 832.39 L996.30 830.88 L996.34 829.37 L996.38 827.87 L996.42 826.36 L996.46 824.85 L996.50 823.35 L996.54 821.84 L996.58 820.33 L996.62 818.83 L996.66 817.32 L996.70 815.82 L996.74 814.31 L996.78 812.80 L996.82 811.30 L996.86 809.79 L996.90 808.29 L996.94 806.78 L996.99 805.28 L997.03 803.77 L997.07 802.27 L997.12 800.76 L997.16 799.26 L997.20 797.75 L997.25 796.25 L997.29 794.74 L997.34 793.24 L997.38 791.73 L997.43 790.23 L997.48 788.73 L997.52 787.22 L997.57 785.72 L997.62 784.21 L997.66 782.71 L997.71 781.21 L997.76 779.70 L997.81 778.20 L997.86 776.70 L997.91 775.19 L997.96 773.69 L998.01 772.19 L998.06 770.68 L998.11 769.18 L998.16 767.68 L998.21 766.18 L998.26 764.67 L998.31 763.17 L998.37 761.67 L998.42 760.16 L998.47 758.66 L998.52 757.16 L998.58 755.66 L998.63 754.16 L998.68 752.65 L998.74 751.15 L998.79 749.65 L998.85 748.15 L998.90 746.65 L998.96 745.14 L999.01 743.64 L999.07 742.14 L999.13 740.64 L999.18 739.14 L999.24 737.64 L999.30 736.13 L999.35 734.63 L999.41 733.13 L999.47 731.63 L999.53 730.13 L999.58 728.63 L999.64 727.13 L999.70 725.63 L999.76 724.13 L999.82 722.62 L999.88 721.12 L999.94 719.62 L1000.00 718.12 L1000.06 716.62 L1000.12 715.12 L1000.18 713.62 L1000.24 712.12 L1000.30 710.62 L1000.36 709.12 L1000.43 707.62 L1000.49 706.12 L1000.55 704.62 L1000.61 703.12 L1000.68 701.62 L1000.74 700.12 L1000.80 698.62 L1000.86 697.12 L1000.93 695.62 L1000.99 694.12 L1001.06 692.62 L1001.12 691.12 L1001.18 689.62 L1001.25 688.12 L1001.31 686.62 L1001.38 685.12 L1001.44 683.62 L1001.51 682.12 L1001.58 680.62 L1001.64 679.12 L1001.71 677.62 L1001.77 676.12 L1001.84 674.62 L1001.91 673.12 L1001.97 671.62 L1002.04 670.12 L1002.11 668.62 L1002.18 667.12 L1002.24 665.62 L1002.31 664.12 L1002.38 662.62 L1002.45 661.13 L1002.51 659.63 L1002.58 658.13 L1002.65 656.63 L1002.72 655.13 L1002.79 653.63 L1002.86 652.13 L1002.93 650.63 L1003.00 649.13 L1003.07 647.63 L1003.14 646.13 L1003.21 644.63 L1003.28 643.13 L1003.35 641.64 L1003.42 640.14 L1003.49 638.64 L1003.56 637.14 L1003.63 635.64 L1003.70 634.14 L1003.77 632.64 L1003.84 631.14 L1003.91 629.64 L1003.99 628.14 L1004.06 626.64 L1004.13 625.14 L1004.20 623.65 L1004.27 622.15 L1004.34 620.65 L1004.42 619.15 L1004.49 617.65 L1004.56 616.15 L1004.63 614.65 L1004.71 613.15 L1004.78 611.65 L1004.85 610.15 L1004.93 608.65 L1005.00 607.15 L1005.07 605.65 L1005.15 604.16 L1005.22 602.66 L1005.29 601.16 L1005.37 599.66 L1005.44 598.16 L1005.51 596.66 L1005.59 595.16 L1005.66 593.66 L1005.74 592.16 L1005.81 590.66 L1005.88 589.16 L1005.96 587.66 L1006.03 586.16 L1006.11 584.66 L1006.18 583.16 L1006.26 581.66 L1006.33 580.16 L1006.41 578.67 L1006.48 577.17 L1006.56 575.67 L1006.63 574.17 L1006.71 572.67 L1006.78 571.17 L1006.86 569.67 L1006.93 568.17 L1007.01 566.67 L1007.08 565.17 L1007.16 563.67 L1007.23 562.17 L1007.31 560.67 L1007.39 559.17 L1007.46 557.67 L1007.54 556.17 L1007.61 554.67 L1007.69 553.17 L1007.76 551.67 L1007.84 550.17 L1007.92 548.67 L1007.99 547.16 L1008.07 545.66 L1008.14 544.16 L1008.22 542.66 L1008.30 541.16 L1008.37 539.66 L1008.45 538.16 L1008.52 536.66 L1008.60 535.16 L1008.68 533.66 L1008.75 532.16 L1008.83 530.66 L1008.90 529.16 L1008.98 527.65 L1009.06 526.15 L1009.13 524.65 L1009.21 523.15 L1009.28 521.65 L1009.36 520.15 L1009.44 518.65 L1009.51 517.14 L1009.59 515.64 L1009.66 514.14 L1009.74 512.64 L1009.82 511.14 L1009.89 509.64 L1009.97 508.13 L1010.04 506.63 L1010.12 505.13 L1010.20 503.63 L1010.27 502.13 L1010.35 500.62 L1010.42 499.12 L1010.50 497.62 L1010.58 496.12 L1010.65 494.61 L1010.73 493.11 L1010.80 491.61 L1010.88 490.10 L1010.95 488.60 L1011.03 487.10 L1011.11 485.60 L1011.18 484.09 L1011.26 482.59 L1011.33 481.09 L1011.41 479.58 L1011.48 478.08 L1011.56 476.58 L1011.63 475.07 L1011.71 473.57 L1011.78 472.06 L1011.86 470.56 L1011.93 469.06 L1012.01 467.55 L1012.08 466.05 L1012.16 464.54 L1012.23 463.04 L1012.31 461.53 L1012.38 460.03 L1012.45 458.52 L1012.53 457.02 L1012.60 455.51 L1012.68 454.01 L1012.75 452.50 L1012.82 451.00 L1012.90 449.49 L1012.97 447.99 L1013.05 446.48 L1013.12 444.98 L1013.19 443.47 L1013.27 441.97 L1013.34 440.46 L1013.41 438.95 L1013.48 437.45 L1013.56 435.94 L1013.63 434.43 L1013.70 432.93 L1013.78 431.42 L1013.85 429.91 L1013.92 428.41 L1013.99 426.90 L1014.06 425.39 L1014.14 423.89 L1014.21 422.38 L1014.28 420.87 L1014.36 419.37 L1014.43 417.86 L1014.51 416.35 L1014.59 414.84 L1014.66 413.34 L1014.74 411.83 L1014.82 410.32 L1014.90 408.82 L1014.99 407.31 L1015.07 405.81 L1015.16 404.30 L1015.25 402.80 L1015.34 401.29 L1015.43 399.79 L1015.53 398.28 L1015.62 396.78 L1015.72 395.28 L1015.83 393.77 L1015.93 392.27 L1016.04 390.77 L1016.15 389.27 L1016.27 387.77 L1016.38 386.27 L1016.50 384.77 L1016.63 383.27 L1016.76 381.77 L1016.89 380.27 L1017.02 378.78 L1017.16 377.28 L1017.31 375.79 L1017.46 374.29 L1017.61 372.80 L1017.76 371.30 L1017.93 369.81 L1018.09 368.32 L1018.26 366.83 L1018.44 365.34 L1018.62 363.85 L1018.80 362.36 L1018.99 360.88 L1019.19 359.39 L1019.39 357.91 L1019.60 356.42 L1019.81 354.94 L1020.03 353.46 L1020.26 351.98 L1020.49 350.50 L1020.73 349.02 L1020.97 347.55 L1021.22 346.07 L1021.48 344.60 L1021.74 343.13 L1022.01 341.65 L1022.29 340.18 L1022.57 338.72 L1022.87 337.25 L1023.17 335.78 L1023.47 334.32 L1023.79 332.86 L1024.11 331.39 L1024.44 329.93 L1024.77 328.48 L1025.12 327.02 L1025.47 325.56 L1025.83 324.11 L1026.21 322.66 L1026.58 321.21 L1026.97 319.76 L1027.37 318.31 L1027.77 316.87 L1028.19 315.42 L1028.61 313.98 L1029.04 312.54 L1029.48 311.10 L1029.93 309.67 L1030.40 308.23 L1030.87 306.80 L1031.35 305.37 L1031.84 303.94 L1032.34 302.52 L1032.85 301.09 L1033.37 299.67 L1033.91 298.26 L1034.46 296.85 L1035.04 295.46 L1035.63 294.08 L1036.25 292.72 L1036.90 291.37 L1037.58 290.05 L1038.29 288.75 L1039.04 287.48 L1039.82 286.23 L1040.65 285.02 L1041.51 283.84 L1042.42 282.70 L1043.38 281.60 L1044.39 280.53 L1045.45 279.52 L1046.56 278.54 L1047.73 277.62 L1048.94 276.74 L1050.20 275.90 L1051.49 275.11 L1052.82 274.35 L1054.18 273.64 L1055.55 272.97 L1056.95 272.33 L1058.36 271.73 L1059.78 271.16 L1061.21 270.63 L1062.66 270.13 L1064.11 269.65 L1065.57 269.21 L1067.05 268.78 L1068.52 268.39 L1070.01 268.01 L1071.50 267.65 L1072.99 267.31 L1074.49 266.99 L1075.99 266.67 L1077.49 266.38 L1078.99 266.09 L1080.49 265.81 L1081.99 265.53 L1083.48 265.27 L1084.98 265.01 L1086.47 264.76 L1087.96 264.51 L1089.45 264.27 L1090.94 264.04 L1092.43 263.81 L1093.92 263.59 L1095.41 263.38 L1096.89 263.17 L1098.38 262.96 L1099.86 262.77 L1101.35 262.57 L1102.83 262.39 L1104.31 262.21 L1105.80 262.03 L1107.28 261.86 L1108.76 261.69 L1110.24 261.53 L1111.72 261.37 L1113.20 261.22 L1114.68 261.07 L1116.16 260.93 L1117.64 260.79 L1119.12 260.65 L1120.60 260.52 L1122.08 260.39 L1123.57 260.26 L1125.05 260.14 L1126.53 260.02 L1128.01 259.90 L1129.50 259.79 L1130.98 259.68 L1132.46 259.57 L1133.95 259.47 L1135.43 259.36 L1136.92 259.26 L1138.41 259.16 L1139.90 259.07 L1141.39 258.97 L1142.88 258.88 L1144.37 258.79 L1145.86 258.70 L1147.36 258.61 L1148.86 258.52 L1150.35 258.43 L1151.85 258.35 L1153.35 258.26 L1154.86 258.18 L1156.36 258.10 L1157.87 258.01 L1159.37 257.93 L1160.88 257.85 L1162.39 257.77 L1163.91 257.68 L1165.42 257.60 L1166.94 257.52 L1168.46 257.43 L1169.99 257.35 L1171.51 257.26 L1173.04 257.18 L1174.57 257.09 L1176.10 257.00 L1180.09 256.77" fill="none" stroke="#0000ff" stroke-width="12.1" stroke-linejoin="round" stroke-linecap="butt" clip-path="url(#cpb)"/>
<path d="M1358.16 1054.12 L1362.00 1053.00 L1363.42 1052.59 L1364.83 1052.17 L1366.25 1051.74 L1367.67 1051.31 L1369.09 1050.86 L1370.50 1050.41 L1371.92 1049.95 L1373.33 1049.48 L1374.75 1049.00 L1376.17 1048.52 L1377.58 1048.03 L1378.99 1047.52 L1380.40 1047.01 L1381.81 1046.50 L1383.22 1045.97 L1384.63 1045.43 L1386.04 1044.89 L1387.44 1044.34 L1388.84 1043.78 L1390.24 1043.21 L1391.64 1042.63 L1393.04 1042.04 L1394.43 1041.45 L1395.82 1040.85 L1397.21 1040.23 L1398.59 1039.61 L1399.97 1038.98 L1401.35 1038.34 L1402.72 1037.70 L1404.09 1037.04 L1405.46 1036.38 L1406.82 1035.70 L1408.18 1035.02 L1409.53 1034.33 L1410.88 1033.62 L1412.22 1032.91 L1413.56 1032.19 L1414.89 1031.46 L1416.21 1030.72 L1417.53 1029.97 L1418.85 1029.21 L1420.16 1028.45 L1421.46 1027.67 L1422.75 1026.88 L1424.04 1026.08 L1425.32 1025.28 L1426.60 1024.46 L1427.86 1023.63 L1429.12 1022.79 L1430.37 1021.95 L1431.62 1021.09 L1432.85 1020.22 L1434.08 1019.34 L1435.30 1018.45 L1436.50 1017.55 L1437.70 1016.64 L1438.90 1015.72 L1440.08 1014.79 L1441.25 1013.85 L1442.41 1012.90 L1443.56 1011.94 L1444.70 1010.96 L1445.84 1009.98 L1446.96 1008.98 L1448.07 1007.97 L1449.17 1006.96 L1450.25 1005.93 L1451.33 1004.89 L1452.40 1003.84 L1453.45 1002.78 L1454.49 1001.70 L1455.52 1000.62 L1456.54 999.53 L1457.55 998.42 L1458.55 997.31 L1459.53 996.19 L1460.50 995.05 L1461.46 993.91 L1462.41 992.76 L1463.35 991.59 L1464.27 990.42 L1465.18 989.24 L1466.08 988.05 L1466.96 986.85 L1467.84 985.64 L1468.70 984.42 L1469.55 983.19 L1470.38 981.95 L1471.20 980.71 L1472.01 979.45 L1472.81 978.19 L1473.59 976.92 L1474.36 975.64 L1475.12 974.35 L1475.86 973.06 L1476.59 971.75 L1477.31 970.44 L1478.01 969.12 L1478.71 967.80 L1479.39 966.47 L1480.06 965.13 L1480.72 963.78 L1481.37 962.43 L1482.01 961.07 L1482.63 959.71 L1483.25 958.34 L1483.86 956.96 L1484.46 955.58 L1485.05 954.20 L1485.63 952.81 L1486.20 951.41 L1486.76 950.01 L1487.31 948.61 L1487.86 947.20 L1488.40 945.79 L1488.93 944.37 L1489.45 942.95 L1489.97 941.53 L1490.48 940.11 L1490.98 938.68 L1491.48 937.25 L1491.97 935.82 L1492.45 934.38 L1492.93 932.94 L1493.41 931.50 L1493.88 930.06 L1494.34 928.62 L1494.81 927.18 L1495.26 925.74 L1495.71 924.29 L1496.16 922.84 L1496.61 921.40 L1497.05 919.95 L1497.48 918.50 L1497.91 917.05 L1498.34 915.60 L1498.76 914.15 L1499.18 912.69 L1499.59 911.24 L1500.00 909.79 L1500.41 908.33 L1500.81 906.87 L1501.20 905.41 L1501.60 903.96 L1501.98 902.50 L1502.37 901.04 L1502.75 899.58 L1503.12 898.11 L1503.49 896.65 L1503.86 895.19 L1504.22 893.72 L1504.58 892.26 L1504.93 890.79 L1505.28 889.32 L1505.62 887.86 L1505.96 886.39 L1506.30 884.92 L1506.63 883.45 L1506.96 881.98 L1507.28 880.51 L1507.60 879.03 L1507.91 877.56 L1508.22 876.09 L1508.53 874.61 L1508.83 873.14 L1509.12 871.66 L1509.42 870.19 L1509.70 868.71 L1509.99 867.23 L1510.27 865.75 L1510.54 864.27 L1510.81 862.80 L1511.08 861.32 L1511.34 859.84 L1511.60 858.35 L1511.85 856.87 L1512.10 855.39 L1512.35 853.91 L1512.59 852.42 L1512.83 850.94 L1513.07 849.46 L1513.30 847.97 L1513.53 846.49 L1513.76 845.00 L1513.98 843.51 L1514.20 842.03 L1514.41 840.54 L1514.63 839.05 L1514.83 837.56 L1515.04 836.08 L1515.24 834.59 L1515.44 833.10 L1515.64 831.61 L1515.84 830.12 L1516.03 828.63 L1516.22 827.14 L1516.40 825.65 L1516.59 824.15 L1516.77 822.66 L1516.95 821.17 L1517.12 819.68 L1517.30 818.18 L1517.47 816.69 L1517.64 815.20 L1517.80 813.70 L1517.97 812.21 L1518.13 810.71 L1518.29 809.22 L1518.45 807.72 L1518.61 806.23 L1518.76 804.73 L1518.92 803.24 L1519.07 801.74 L1519.22 800.25 L1519.37 798.75 L1519.52 797.25 L1519.66 795.76 L1519.81 794.26 L1519.95 792.76 L1520.09 791.26 L1520.23 789.77 L1520.37 788.27 L1520.51 786.77 L1520.65 785.27 L1520.78 783.77 L1520.92 782.28 L1521.05 780.78 L1521.19 779.28 L1521.32 777.78 L1521.45 776.28 L1521.58 774.78 L1521.72 773.29 L1521.85 771.79 L1521.98 770.29 L1522.11 768.79 L1522.23 767.29 L1522.36 765.79 L1522.49 764.29 L1522.62 762.80 L1522.75 761.30 L1522.87 759.80 L1523.00 758.30 L1523.12 756.80 L1523.25 755.30 L1523.37 753.80 L1523.50 752.30 L1523.62 750.80 L1523.74 749.30 L1523.87 747.80 L1523.99 746.30 L1524.11 744.80 L1524.23 743.31 L1524.35 741.81 L1524.47 740.31 L1524.59 738.81 L1524.71 737.31 L1524.83 735.81 L1524.95 734.31 L1525.07 732.81 L1525.19 731.31 L1525.30 729.81 L1525.42 728.31 L1525.54 726.81 L1525.65 725.31 L1525.77 723.81 L1525.88 722.31 L1526.00 720.81 L1526.11 719.31 L1526.22 717.81 L1526.34 716.31 L1526.45 714.81 L1526.56 713.31 L1526.67 711.81 L1526.78 710.31 L1526.89 708.81 L1527.01 707.30 L1527.12 705.80 L1527.23 704.30 L1527.33 702.80 L1527.44 701.30 L1527.55 699.80 L1527.66 698.30 L1527.77 696.80 L1527.87 695.30 L1527.98 693.80 L1528.09 692.30 L1528.19 690.80 L1528.30 689.30 L1528.41 687.80 L1528.51 686.29 L1528.62 684.79 L1528.72 683.29 L1528.82 681.79 L1528.93 680.29 L1529.03 678.79 L1529.13 677.29 L1529.24 675.79 L1529.34 674.29 L1529.44 672.78 L1529.54 671.28 L1529.64 669.78 L1529.74 668.28 L1529.84 666.78 L1529.94 665.28 L1530.04 663.78 L1530.14 662.27 L1530.24 660.77 L1530.34 659.27 L1530.44 657.77 L1530.53 656.27 L1530.63 654.77 L1530.73 653.27 L1530.83 651.76 L1530.92 650.26 L1531.02 648.76 L1531.12 647.26 L1531.21 645.76 L1531.31 644.25 L1531.40 642.75 L1531.50 641.25 L1531.59 639.75 L1531.68 638.25 L1531.78 636.75 L1531.87 635.24 L1531.96 633.74 L1532.06 632.24 L1532.15 630.74 L1532.24 629.24 L1532.34 627.73 L1532.43 626.23 L1532.52 624.73 L1532.61 623.23 L1532.70 621.72 L1532.79 620.22 L1532.88 618.72 L1532.97 617.22 L1533.06 615.72 L1533.15 614.21 L1533.24 612.71 L1533.33 611.21 L1533.42 609.71 L1533.51 608.20 L1533.60 606.70 L1533.68 605.20 L1533.77 603.70 L1533.86 602.19 L1533.95 600.69 L1534.03 599.19 L1534.12 597.69 L1534.21 596.18 L1534.29 594.68 L1534.38 593.18 L1534.47 591.68 L1534.55 590.17 L1534.64 588.67 L1534.72 587.17 L1534.81 585.67 L1534.89 584.16 L1534.98 582.66 L1535.06 581.16 L1535.15 579.66 L1535.23 578.15 L1535.32 576.65 L1535.40 575.15 L1535.48 573.64 L1535.57 572.14 L1535.65 570.64 L1535.73 569.14 L1535.81 567.63 L1535.90 566.13 L1535.98 564.63 L1536.06 563.12 L1536.14 561.62 L1536.23 560.12 L1536.31 558.62 L1536.39 557.11 L1536.47 555.61 L1536.55 554.11 L1536.63 552.60 L1536.71 551.10 L1536.80 549.60 L1536.88 548.09 L1536.96 546.59 L1537.04 545.09 L1537.12 543.59 L1537.20 542.08 L1537.28 540.58 L1537.36 539.08 L1537.44 537.57 L1537.52 536.07 L1537.60 534.57 L1537.67 533.06 L1537.75 531.56 L1537.83 530.06 L1537.91 528.56 L1537.99 527.05 L1538.07 525.55 L1538.15 524.05 L1538.23 522.54 L1538.30 521.04 L1538.38 519.54 L1538.46 518.03 L1538.54 516.53 L1538.62 515.03 L1538.69 513.52 L1538.77 512.02 L1538.85 510.52 L1538.93 509.01 L1539.00 507.51 L1539.08 506.01 L1539.16 504.51 L1539.24 503.00 L1539.31 501.50 L1539.39 500.00 L1539.47 498.49 L1539.54 496.99 L1539.62 495.49 L1539.70 493.98 L1539.78 492.48 L1539.85 490.98 L1539.93 489.47 L1540.01 487.97 L1540.08 486.47 L1540.16 484.96 L1540.23 483.46 L1540.31 481.96 L1540.39 480.45 L1540.46 478.95 L1540.54 477.45 L1540.62 475.94 L1540.69 474.44 L1540.77 472.94 L1540.85 471.44 L1540.92 469.93 L1541.00 468.43 L1541.07 466.93 L1541.15 465.42 L1541.23 463.92 L1541.30 462.42 L1541.38 460.91 L1541.45 459.41 L1541.53 457.91 L1541.61 456.40 L1541.68 454.90 L1541.76 453.40 L1541.83 451.89 L1541.91 450.39 L1541.99 448.89 L1542.06 447.39 L1542.14 445.88 L1542.22 444.38 L1542.29 442.88 L1542.37 441.37 L1542.44 439.87 L1542.52 438.37 L1542.60 436.86 L1542.67 435.36 L1542.75 433.86 L1542.83 432.36 L1542.90 430.85 L1542.98 429.35 L1543.06 427.85 L1543.13 426.34 L1543.21 424.84 L1543.29 423.34 L1543.36 421.83 L1543.44 420.33 L1543.52 418.83 L1543.59 417.33 L1543.67 415.82 L1543.75 414.32 L1543.83 412.82 L1543.90 411.31 L1543.98 409.81 L1544.06 408.31 L1544.14 406.81 L1544.21 405.30 L1544.29 403.80 L1544.37 402.30 L1544.45 400.80 L1544.53 399.29 L1544.61 397.79 L1544.68 396.29 L1544.76 394.78 L1544.84 393.28 L1544.92 391.78 L1545.00 390.28 L1545.08 388.77 L1545.16 387.27 L1545.24 385.77 L1545.32 384.27 L1545.40 382.76 L1545.48 381.26 L1545.56 379.76 L1545.64 378.25 L1545.73 376.75 L1545.81 375.25 L1545.89 373.75 L1545.97 372.24 L1546.05 370.74 L1546.13 369.24 L1546.22 367.74 L1546.30 366.23 L1546.38 364.73 L1546.47 363.23 L1546.55 361.73 L1546.63 360.22 L1546.72 358.72 L1546.80 357.22 L1546.89 355.72 L1546.97 354.21 L1547.06 352.71 L1547.14 351.21 L1547.23 349.71 L1547.32 348.21 L1547.40 346.70 L1547.49 345.20 L1547.58 343.70 L1547.66 342.20 L1547.75 340.69 L1547.84 339.19 L1547.93 337.69 L1548.02 336.19 L1548.11 334.68 L1548.20 333.18 L1548.29 331.68 L1548.38 330.18 L1548.47 328.68 L1548.56 327.17 L1548.65 325.67 L1548.74 324.17 L1548.83 322.67 L1548.93 321.16 L1549.02 319.66 L1549.11 318.16 L1549.21 316.66 L1549.30 315.16 L1549.39 313.65 L1549.49 312.15 L1549.58 310.65 L1549.68 309.15 L1549.78 307.65 L1549.87 306.14 L1549.97 304.64 L1550.07 303.14 L1550.17 301.64 L1550.27 300.14 L1550.36 298.63 L1550.46 297.13 L1550.56 295.63 L1550.66 294.13 L1550.77 292.63 L1550.87 291.12 L1550.97 289.62 L1551.07 288.12 L1551.17 286.62 L1551.28 285.12 L1551.38 283.62 L1551.49 282.11 L1551.60 280.61 L1551.71 279.11 L1551.83 277.61 L1551.95 276.11 L1552.08 274.62 L1552.21 273.12 L1552.35 271.62 L1552.49 270.13 L1552.65 268.64 L1552.81 267.15 L1552.98 265.66 L1553.16 264.17 L1553.35 262.68 L1553.55 261.20 L1553.77 259.72 L1554.00 258.24 L1554.24 256.76 L1554.49 255.29 L1554.76 253.82 L1555.04 252.35 L1555.34 250.89 L1555.66 249.43 L1555.99 247.97 L1556.34 246.51 L1556.71 245.06 L1557.10 243.62 L1557.50 242.17 L1557.93 240.73 L1558.38 239.30 L1558.85 237.87 L1559.34 236.44 L1559.86 235.02 L1560.40 233.60 L1561.17 234.93 L1561.91 236.26 L1562.61 237.61 L1563.28 238.97 L1563.92 240.34 L1564.53 241.72 L1565.12 243.10 L1565.68 244.50 L1566.21 245.90 L1566.73 247.31 L1567.23 248.73 L1567.72 250.15 L1568.18 251.58 L1568.64 253.01 L1569.09 254.45 L1569.53 255.89 L1569.96 257.34 L1570.39 258.79 L1570.82 260.24 L1571.25 261.69 L1571.69 263.15 L1572.12 264.61 L1572.57 266.06 L1573.02 267.52 L1573.48 268.98 L1573.96 270.44 L1574.45 271.89 L1574.96 273.35 L1575.48 274.80 L1576.03 276.24 L1576.60 277.67 L1577.19 279.10 L1577.81 280.50 L1578.45 281.90 L1579.12 283.27 L1579.81 284.62 L1580.54 285.95 L1581.30 287.25 L1582.10 288.53 L1582.93 289.77 L1583.79 290.98 L1584.70 292.15 L1585.64 293.29 L1586.62 294.38 L1587.65 295.43 L1588.71 296.43 L1589.81 297.39 L1590.95 298.31 L1592.13 299.17 L1593.34 299.99 L1594.59 300.76 L1595.87 301.49 L1597.17 302.17 L1598.51 302.81 L1599.87 303.41 L1601.26 303.97 L1602.67 304.50 L1604.10 304.99 L1605.54 305.45 L1607.01 305.88 L1608.49 306.28 L1609.99 306.65 L1611.50 306.99 L1613.01 307.31 L1614.54 307.60 L1616.07 307.88 L1617.61 308.13 L1619.15 308.37 L1620.69 308.59 L1622.23 308.80 L1623.76 308.99 L1625.30 309.17 L1626.83 309.34 L1628.35 309.50 L1629.87 309.66 L1631.39 309.80 L1632.91 309.93 L1634.42 310.06 L1635.93 310.18 L1637.44 310.29 L1638.95 310.40 L1640.45 310.50 L1641.96 310.59 L1643.46 310.68 L1644.96 310.77 L1646.46 310.85 L1647.96 310.93 L1649.46 311.01 L1650.96 311.08 L1652.46 311.15 L1653.96 311.23 L1655.46 311.30 L1656.96 311.37 L1658.47 311.45 L1659.97 311.52 L1661.47 311.59 L1662.98 311.67 L1664.48 311.74 L1665.99 311.81 L1667.49 311.88 L1669.00 311.96 L1670.51 312.03 L1672.02 312.10 L1673.52 312.17 L1675.03 312.24 L1676.54 312.31 L1678.05 312.38 L1679.56 312.44 L1681.07 312.51 L1682.58 312.58 L1684.10 312.64 L1685.61 312.70 L1687.12 312.77 L1688.63 312.83 L1690.14 312.89 L1691.66 312.95 L1693.17 313.01 L1694.68 313.06 L1696.20 313.12 L1697.71 313.17 L1699.22 313.22 L1700.74 313.27 L1702.25 313.32 L1703.76 313.36 L1705.28 313.41 L1706.79 313.45 L1708.31 313.49 L1709.82 313.53 L1711.33 313.56 L1712.85 313.60 L1714.36 313.63 L1715.87 313.66 L1717.39 313.68 L1718.90 313.71 L1720.41 313.73 L1721.93 313.75 L1723.44 313.76 L1724.95 313.78 L1726.47 313.79 L1727.98 313.79 L1729.49 313.80 L1731.00 313.80 L1735.00 313.80" fill="none" stroke="#000" stroke-width="12.1" stroke-linejoin="round" stroke-linecap="butt" clip-path="url(#cpc)"/>
<line x1="344.65" y1="292.5" x2="456.35" y2="292.5" stroke="#000" stroke-width="11.3" stroke-linecap="round"/>
<line x1="345.05" y1="374.8" x2="456.15" y2="374.8" stroke="#ff0000" stroke-width="12.1" stroke-linecap="round"/>
<line x1="344.6" y1="457.5" x2="456.6" y2="457.5" stroke="#00ff00" stroke-width="11.2" stroke-linecap="round"/>
<line x1="831.8" y1="114.9" x2="943.2" y2="114.9" stroke="#008000" stroke-width="11.8" stroke-linecap="round"/>
<line x1="831.8" y1="175.9" x2="943.2" y2="175.9" stroke="#0000ff" stroke-width="11.8" stroke-linecap="round"/>
</g>
<g font-family="'Liberation Sans', Arial, sans-serif" fill="#000">
<text transform="translate(149.22 63.36) scale(0.9580 1)" font-size="53.57" font-weight="bold">2.0</text>
<text transform="translate(148.58 876.29) scale(0.9580 1)" font-size="53.57" font-weight="bold">0.5</text>
<text transform="translate(149.22 1147.26) scale(0.9580 1)" font-size="53.57" font-weight="bold">0.0</text>
<text transform="translate(145.95 334.88) scale(1.1563 1)" font-size="49.03" font-weight="800" font-family="NanumGothic, 'Liberation Sans', sans-serif">1</text>
<text transform="translate(177.17 334.46) scale(0.9607 1)" font-size="54.48" font-weight="bold">.5</text>
<text transform="translate(146.02 606.88) scale(1.1421 1)" font-size="49.03" font-weight="800" font-family="NanumGothic, 'Liberation Sans', sans-serif">1</text>
<text transform="translate(177.45 606.46) scale(0.9527 1)" font-size="53.71" font-weight="bold">.0</text>
<text transform="translate(703.46 63.36) scale(0.9580 1)" font-size="53.57" font-weight="bold">0.6</text>
<text transform="translate(701.92 424.66) scale(0.9580 1)" font-size="53.57" font-weight="bold">0.4</text>
<text transform="translate(703.72 785.96) scale(0.9580 1)" font-size="53.57" font-weight="bold">0.2</text>
<text transform="translate(703.72 1147.26) scale(0.9580 1)" font-size="53.57" font-weight="bold">0.0</text>
<text transform="translate(1256.92 334.26) scale(0.9665 1)" font-size="53.71" font-weight="bold">0.0</text>
<text transform="translate(1239.82 714.26) scale(0.9661 1)" font-size="53.71" font-weight="bold">-0.7</text>
<text transform="translate(1239.67 1095.33) scale(1.0808 1)" font-size="51.67" font-weight="bold">-</text>
<text transform="translate(1254.71 1094.68) scale(1.1634 1)" font-size="49.03" font-weight="800" font-family="NanumGothic, 'Liberation Sans', sans-serif">1</text>
<text transform="translate(1286.54 1094.8) scale(0.9284 1)" font-size="55.27" font-weight="bold">.4</text>
<text transform="translate(217.92 1208.36) scale(0.9580 1)" font-size="53.57" font-weight="bold">-50</text>
<text transform="translate(309.98 1208.36) scale(0.9580 1)" font-size="53.57" font-weight="bold">-25</text>
<text transform="translate(425.51 1208.36) scale(0.9580 1)" font-size="53.57" font-weight="bold">0</text>
<text transform="translate(503.45 1208.36) scale(0.9580 1)" font-size="53.57" font-weight="bold">25</text>
<text transform="translate(596.27 1208.36) scale(0.9580 1)" font-size="53.57" font-weight="bold">50</text>
<text transform="translate(772.42 1208.36) scale(0.9580 1)" font-size="53.57" font-weight="bold">-50</text>
<text transform="translate(864.48 1208.36) scale(0.9580 1)" font-size="53.57" font-weight="bold">-25</text>
<text transform="translate(980.01 1208.36) scale(0.9580 1)" font-size="53.57" font-weight="bold">0</text>
<text transform="translate(1057.95 1208.36) scale(0.9580 1)" font-size="53.57" font-weight="bold">25</text>
<text transform="translate(1150.77 1208.36) scale(0.9580 1)" font-size="53.57" font-weight="bold">50</text>
<text transform="translate(1326.42 1208.36) scale(0.9580 1)" font-size="53.57" font-weight="bold">-50</text>
<text transform="translate(1418.6 1208.36) scale(0.9580 1)" font-size="53.57" font-weight="bold">-25</text>
<text transform="translate(1534.26 1208.36) scale(0.9580 1)" font-size="53.57" font-weight="bold">0</text>
<text transform="translate(1612.33 1208.36) scale(0.9580 1)" font-size="53.57" font-weight="bold">25</text>
<text transform="translate(1705.27 1208.36) scale(0.9580 1)" font-size="53.57" font-weight="bold">50</text>
<text transform="translate(327.51 1290.9) scale(1.0000 1)" font-size="65.75" font-weight="bold">V</text>
<text transform="translate(369.68 1315.64) scale(0.9917 1)" font-size="35.92" font-weight="bold">bias</text>
<text transform="translate(441.94 1290.25) scale(0.9968 1)" font-size="61.45" font-weight="bold">(mV)</text>
<text transform="translate(869.71 1286.8) scale(0.9928 1)" font-size="65.45" font-weight="bold">V</text>
<text transform="translate(911.9 1311.54) scale(0.9919 1)" font-size="35.65" font-weight="bold">bias</text>
<text transform="translate(982.53 1286.04) scale(1.0053 1)" font-size="61.02" font-weight="bold">(mV)</text>
<text transform="translate(1423.61 1286.8) scale(0.9998 1)" font-size="65.45" font-weight="bold">V</text>
<text transform="translate(1465.79 1311.54) scale(0.9948 1)" font-size="35.65" font-weight="bold">bias</text>
<text transform="translate(1536.41 1286.04) scale(1.0123 1)" font-size="61.02" font-weight="bold">(mV)</text>
<text transform="translate(269.28 304.89) scale(1.0024 1)" font-size="48.26" font-weight="bold">(a)</text>
<text transform="translate(483.8 308.8) scale(0.9105 1)" font-size="50.47" font-weight="bold">N</text>
<text transform="translate(517.84 328.9) scale(0.9199 1)" font-size="50.91" font-weight="bold">L</text>
<text transform="translate(544 329.38) scale(1.1619 1)" font-size="49.18" font-weight="bold">,</text>
<text transform="translate(558.17 328.59) scale(1.0555 1)" font-size="40.93" font-weight="bold">σ</text>
<text transform="translate(482.19 392.4) scale(0.9223 1)" font-size="51.49" font-weight="bold">N</text>
<text transform="translate(517.36 411.2) scale(0.9638 1)" font-size="51.35" font-weight="bold">R</text>
<text transform="translate(548.6 411.23) scale(1.2745 1)" font-size="48.2" font-weight="bold">,</text>
<text transform="translate(562.95 410.79) scale(1.0614 1)" font-size="41.3" font-weight="bold">σ</text>
<text transform="translate(482.19 474.3) scale(0.9302 1)" font-size="51.05" font-weight="bold">N</text>
<text transform="translate(518.64 493.6) scale(0.9160 1)" font-size="50.33" font-weight="bold">T</text>
<text transform="translate(336.54 579.1) scale(0.9078 1)" font-size="51.2" font-weight="bold">T =</text>
<text transform="translate(415.71 578.99) scale(1.2559 1)" font-size="45.42" font-weight="800" font-family="NanumGothic, 'Liberation Sans', sans-serif">1</text>
<text transform="translate(444.15 579.1) scale(0.9328 1)" font-size="50.47" font-weight="bold">2 K</text>
<text transform="translate(62 668.91) rotate(-90) scale(0.9096 1)" font-size="65.31" font-weight="bold">N</text>
<text transform="translate(80.94 626.91) rotate(-90) scale(1.1746 1)" font-size="61.98" font-weight="bold">j</text>
<text transform="translate(81.15 609) rotate(-90) scale(1.1713 1)" font-size="60.98" font-weight="bold">,</text>
<text transform="translate(82.28 589.29) rotate(-90) scale(1.1325 1)" font-size="51.72" font-weight="normal">σ</text>
<text transform="translate(840.47 293.91) scale(1.0089 1)" font-size="48.15" font-weight="bold">(b)</text>
<text transform="translate(956.64 131.11) scale(0.9745 1)" font-size="48.57" font-weight="bold">2- site -S</text>
<text transform="translate(956.24 191.52) scale(0.9901 1)" font-size="48.03" font-weight="bold">2- site -T</text>
<text transform="translate(739.35 622.38) rotate(-90) scale(0.9561 1)" font-size="64.88" font-weight="bold">CF</text>
<text transform="translate(1387.91 115.57) scale(0.8976 1)" font-size="52.58" font-weight="bold">PSB</text>
<text transform="translate(1515.71 181.05) scale(1.0522 1)" font-size="50.07" font-weight="bold" font-family="'Noto Sans CJK SC', 'Liberation Sans', sans-serif">J</text>
<text transform="translate(1545.67 200) scale(0.9178 1)" font-size="53.67" font-weight="bold">F</text>
<text transform="translate(1576.2 200.97) scale(1.1031 1)" font-size="51.8" font-weight="bold">,</text>
<text transform="translate(1590.63 199.49) scale(1.0145 1)" font-size="51.14" font-weight="bold">max</text>
<text transform="translate(1608.19 267.89) scale(0.9315 1)" font-size="51.02" font-weight="bold">NDC</text>
<text transform="translate(1392.59 296.91) scale(0.9991 1)" font-size="48.15" font-weight="bold">(c)</text>
<text transform="translate(1288.8 619.18) rotate(-90) scale(1.0178 1)" font-size="60.13" font-weight="bold" font-family="'Noto Sans CJK SC', 'Liberation Sans', sans-serif">J</text>
<text transform="translate(1288.38 565.21) rotate(-90) scale(0.8576 1)" font-size="60.8" font-weight="bold">(</text>
<text transform="translate(1288.8 544.86) rotate(-90) scale(1.0032 1)" font-size="60.13" font-weight="bold" font-family="'Noto Sans CJK SC', 'Liberation Sans', sans-serif">J</text>
<text transform="translate(1312.53 510.12) rotate(-90) scale(0.9668 1)" font-size="36.61" font-weight="normal">0</text>
<text transform="translate(1288.38 485.73) rotate(-90) scale(0.8399 1)" font-size="60.8" font-weight="bold">)</text>
</g>
</svg>
</body></html>
